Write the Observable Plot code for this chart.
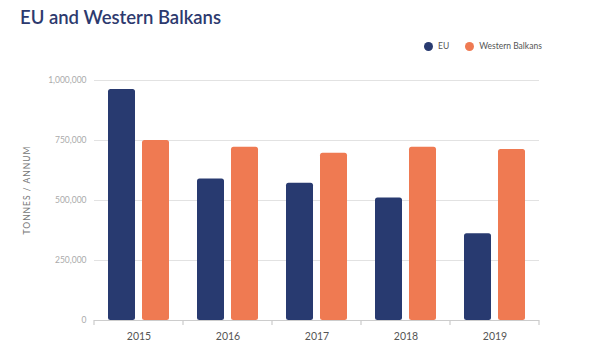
<!DOCTYPE html>
<html><head><meta charset="utf-8">
<script src="https://cdn.jsdelivr.net/npm/d3@7"></script>
<script src="https://cdn.jsdelivr.net/npm/@observablehq/plot@0.6"></script>
<style>
body{margin:0;background:#fff;font-family:Lato,"Open Sans",sans-serif;}
#wrap{position:relative;width:615px;height:351px;overflow:hidden;}
#title{position:absolute;left:20px;top:6px;font-size:18.5px;font-weight:600;color:#2d3a6e;white-space:nowrap;}
#legend{position:absolute;left:424px;top:41px;font-size:8.5px;color:#555;display:flex;align-items:center;white-space:nowrap;}
#legend .item{display:flex;align-items:center;margin-right:16px;}
#legend .dot{width:9px;height:9px;border-radius:50%;margin-right:5px;}
#ylabel{position:absolute;left:27px;top:190px;transform:translate(-50%,-50%) rotate(-90deg);font-size:8.5px;letter-spacing:1px;color:#777;white-space:nowrap;}
#chart{position:absolute;left:0;top:0;}
</style>
</head><body>
<div id="wrap">
  <div id="chart"></div>
  <div id="title"></div>
  <div id="legend"></div>
  <div id="ylabel"></div>
</div>
<script>
const titleText = "EU and Western Balkans";
const yLabelText = "TONNES / ANNUM";
const years = ["2015", "2016", "2017", "2018", "2019"];
const series = ["EU", "Western Balkans"];
const euValues = [962000, 590000, 572000, 510000, 361000];
const wbValues = [750000, 722000, 697000, 722000, 712000];
const yTicks = [0, 250000, 500000, 750000, 1000000];
const colors = ["#283a70", "#ef7a52"];

const data = years.flatMap((yr, i) => [
  {year: yr, series: series[0], value: euValues[i]},
  {year: yr, series: series[1], value: wbValues[i]}
]);

document.getElementById("title").textContent = titleText;
document.getElementById("ylabel").textContent = yLabelText;
const legend = document.getElementById("legend");
series.forEach((s, i) => {
  const item = document.createElement("div"); item.className = "item";
  const dot = document.createElement("span"); dot.className = "dot"; dot.style.background = colors[i];
  const lab = document.createElement("span"); lab.textContent = s;
  item.appendChild(dot); item.appendChild(lab); legend.appendChild(item);
});

const chart = Plot.plot({
  width: 615, height: 351,
  marginTop: 80, marginBottom: 31, marginLeft: 93, marginRight: 75,
  style: {fontFamily: "Lato, 'Open Sans', sans-serif", background: "transparent"},
  fx: {domain: years, padding: 0, label: null},
  x: {domain: series, axis: null, paddingInner: 0.217, paddingOuter: 0.406},
  y: {domain: [0, 1000000], label: null},
  color: {domain: series, range: colors},
  marks: [
    Plot.ruleY(yTicks.slice(1), {stroke: "#e2e2e2", strokeWidth: 1}),
    Plot.barY(data, {fx: "year", x: "series", y: "value", fill: "series", rx: 2.5}),
    Plot.ruleY([0], {stroke: "#cccccc", strokeWidth: 1.2}),
    Plot.axisY({ticks: yTicks, tickFormat: d3.format(","), tickSize: 0, tickPadding: 8, fontSize: 8.5, fill: "#aaaaaa", label: null}),
    Plot.axisFx({anchor: "bottom", tickSize: 0, tickPadding: 12, fontSize: 10.5, fill: "#555555", label: null})
  ]
});
document.getElementById("chart").appendChild(chart);

// boundary ticks between year groups, placed with Plot's fx scale
const fxs = chart.scale("fx");
const ys = chart.scale("y");
const y0 = ys.apply(0);
const edges = years.map(yr => fxs.apply(yr)).concat([fxs.apply(years[years.length - 1]) + fxs.bandwidth]);
d3.select(chart).append("g")
  .selectAll("line").data(edges).join("line")
  .attr("x1", d => d).attr("x2", d => d)
  .attr("y1", y0).attr("y2", y0 + 5)
  .attr("stroke", "#cccccc").attr("stroke-width", 1.2);
</script>
</body></html>
